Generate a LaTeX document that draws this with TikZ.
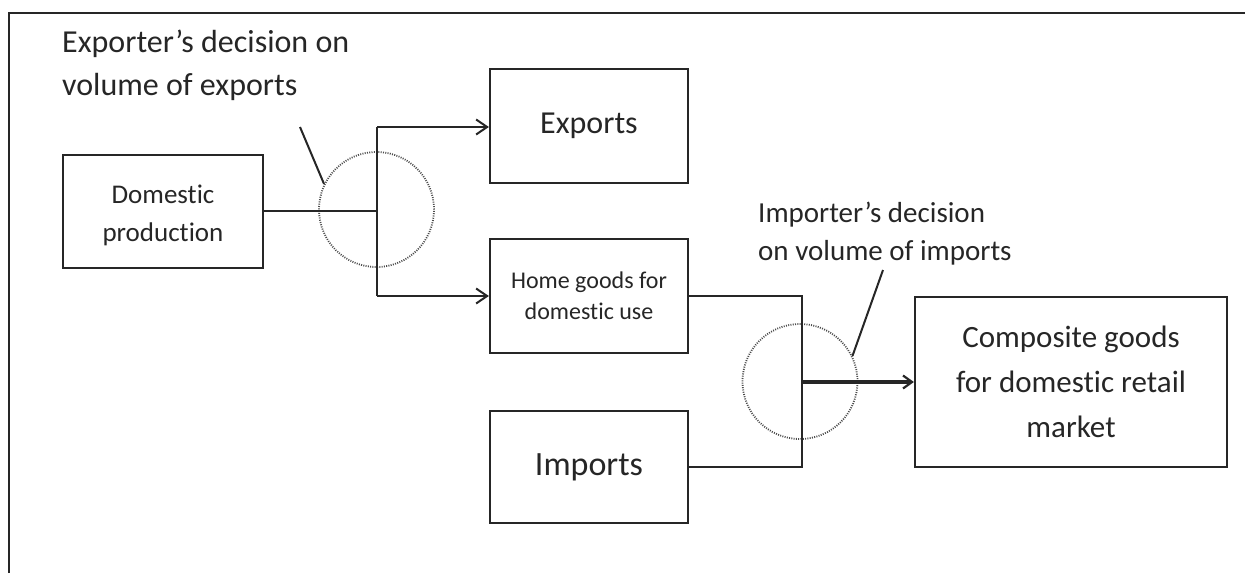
\documentclass[tikz,border=0pt]{standalone}
\usepackage{fontspec}
\setmainfont{Carlito}[Ligatures=NoCommon]
\usetikzlibrary{arrows.meta}
\definecolor{ink}{HTML}{262626}
\begin{document}
\begin{tikzpicture}[x=1pt,y=-1pt,
  box/.style={draw=ink,line width=2.2pt,rectangle,inner sep=0pt,align=center,text=ink},
  lbl/.style={inner sep=0pt,align=left,text=ink},
  link/.style={draw=ink,line width=2pt},
  arr/.style={link,-{Straight Barb[length=11pt,width=15pt,line width=2pt]}},
  thickarr/.style={draw=ink,line width=3.6pt,-{Straight Barb[length=9pt,width=13pt,line width=2.2pt]}},
  dotcirc/.style={circle,draw=black!70,line width=1.8pt,dash pattern=on 1pt off 1.3pt,minimum size=115pt,inner sep=0pt},
  frame/.style={draw=ink,line width=2pt}]
\useasboundingbox (0,0) rectangle (1245,573);
\draw[frame] (9,573) -- (9,13) -- (1245,13);

\node[box,minimum width=200pt,minimum height=113pt] (dom) at (163,211.5) {};
\node[inner sep=0pt,align=center,text=ink,font=\fontsize{27}{38}\selectfont] (domt) at (163,215) {Domestic\\production};
\node[box,minimum width=198pt,minimum height=114pt,font=\fontsize{32}{38}\selectfont] (exp) at (589,126) {Exports};
\node[box,minimum width=198pt,minimum height=114pt,font=\fontsize{24}{31}\selectfont] (home) at (589,296) {Home goods for\\domestic use};
\node[box,minimum width=198pt,minimum height=112pt,font=\fontsize{34}{38}\selectfont] (imp) at (589,467) {Imports};
\node[box,minimum width=312pt,minimum height=170pt,font=\fontsize{31}{45}\selectfont] (comp) at (1071,382) {Composite goods\\for domestic retail\\market};

\node[lbl,anchor=north west,font=\fontsize{32}{43}\selectfont] (l1) at (62,30) {Exporter’s decision on\\volume of exports};
\node[lbl,anchor=north west,font=\fontsize{29}{38}\selectfont] (l2) at (758,202) {Importer’s decision\\on volume of imports};

\node[dotcirc] (c1) at (376.5,209.5) {};
\node[dotcirc] (c2) at (800,381.5) {};

\coordinate (j1) at (377,211);
\coordinate (t1) at (377,127);
\coordinate (b1) at (377,296);
\draw[link] (dom.east |- j1) -- (j1);
\draw[link] (t1) -- (b1);
\draw[arr] (t1) -- (t1 -| exp.west);
\draw[arr] (b1) -- (b1 -| home.west);

\coordinate (j2) at (802,382);
\draw[link] (home.east) -- (home.east -| j2) -- (imp.east -| j2) -- (imp.east);
\draw[thickarr] (j2) -- (j2 -| comp.west);

\coordinate (p1) at (300,127);
\coordinate (p2) at (883,270);
\draw[link] (p1) -- (c1.154);
\draw[link] (p2) -- (c2.26);
\end{tikzpicture}
\end{document}
